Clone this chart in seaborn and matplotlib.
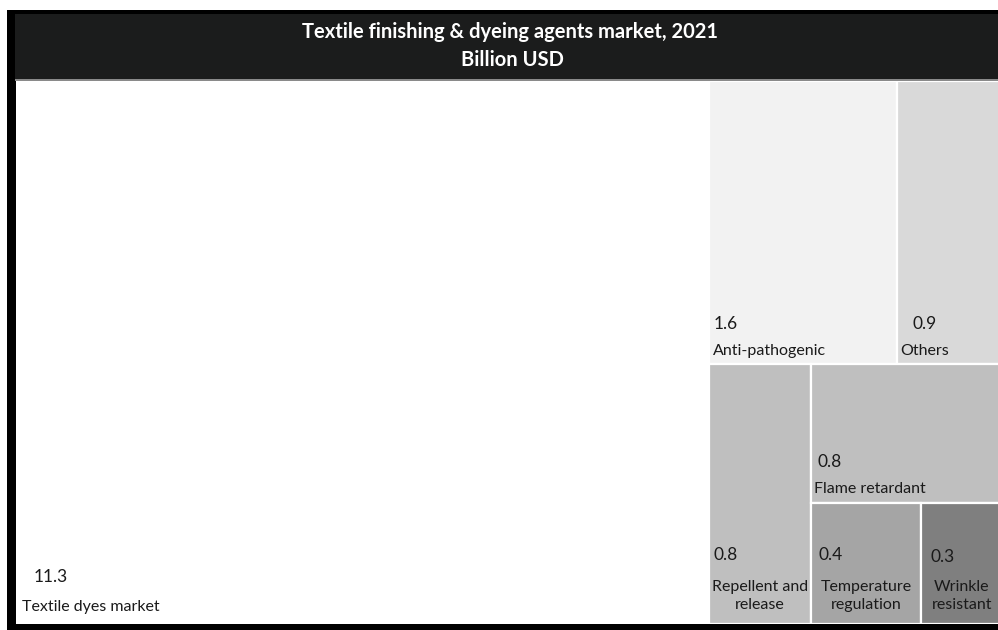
import matplotlib
matplotlib.use("Agg")
import matplotlib.pyplot as plt
import seaborn as sns
from matplotlib.patches import Rectangle

# ---------------- data ----------------
title_line1 = "Textile finishing & dyeing agents market, 2021"
title_line2 = "Billion USD"
categories = ["Textile dyes market", "Anti-pathogenic", "Others",
              "Repellent and\nrelease", "Flame retardant",
              "Temperature\nregulation", "Wrinkle\nresistant"]
values = [11.3, 1.6, 0.9, 0.8, 0.8, 0.4, 0.3]
# nesting of the treemap (indices into categories)
tree = [0, [[1, 2], [3, [4, [5, 6]]]]]

# ---------------- style ----------------
colors = ["#ffffff", "#f2f2f2", "#d9d9d9", "#bfbfbf", "#bfbfbf", "#a5a5a5", "#7f7f7f"]
# label placement (pixel offsets from tile bottom-left): value dx, value dy, name dx, name dy, name centred?
label_style = [
    (18, 47, 6, 17, False),
    (5, 40, 4, 13, False),
    (15, 40, 3, 13, False),
    (5, 69, None, 28, True),
    (6, 41, 3, 14, False),
    (7, 69, None, 28, True),
    (10, 67, None, 28, True),
]

sns.set_theme(style="white")
plt.rcParams["font.family"] = ["Lato", "DejaVu Sans"]

W, H = 998, 630
fig = plt.figure(figsize=(W / 100, H / 100), dpi=100)
fig.patch.set_facecolor("white")


def fig_rect(x0, y0_top, x1, y1_top, color, z=-5):
    """Rectangle in pixel coordinates with y measured from the top."""
    r = Rectangle((x0 / W, 1 - y1_top / H), (x1 - x0) / W, (y1_top - y0_top) / H,
                  transform=fig.transFigure, facecolor=color, edgecolor="none", zorder=z)
    fig.add_artist(r)


# outer black frame, title band and separator line
fig_rect(7, 10, 1005, 640, "#000000", z=-5)
fig_rect(15, 14, 1005, 79, "#1b1c1c", z=-4)
fig_rect(15, 79, 1005, 81, "#8a8a8a", z=-4)

fig.text(510 / W, 1 - 32 / H, title_line1, ha="center", va="center",
         color="white", fontsize=14.5, fontweight="bold")
fig.text(512 / W, 1 - 60 / H, title_line2, ha="center", va="center",
         color="white", fontsize=14.5, fontweight="bold")

# treemap axes
left_px, right_px, top_px, bottom_px = 16, 1003, 81, 624
ax = fig.add_axes([left_px / W, 1 - bottom_px / H,
                   (right_px - left_px) / W, (bottom_px - top_px) / H])
ax.set_facecolor("white")
ax.set_xlim(0, 1)
ax.set_ylim(0, 1)
ax.set_axis_off()


def node_total(node):
    if isinstance(node, int):
        return values[node]
    return sum(node_total(c) for c in node)


def layout(node, x, y, w, h, horizontal, out):
    if isinstance(node, int):
        out[node] = (x, y, w, h)
        return
    s = sum(node_total(c) for c in node)
    if horizontal:
        cx = x
        for c in node:
            cw = w * node_total(c) / s
            layout(c, cx, y, cw, h, not horizontal, out)
            cx += cw
    else:
        cy = y + h
        for c in node:
            ch = h * node_total(c) / s
            cy -= ch
            layout(c, x, cy, w, ch, not horizontal, out)


rects = {}
layout(tree, 0, 0, 1, 1, True, rects)

px2pt = 0.72
for i, name in enumerate(categories):
    x, y, w, h = rects[i]
    ax.add_patch(Rectangle((x, y), w, h, facecolor=colors[i],
                           edgecolor="white", linewidth=1.6))
    vdx, vdy, ndx, ndy, centred = label_style[i]
    ax.annotate(f"{values[i]:.1f}", xy=(x, y), xytext=(vdx * px2pt, vdy * px2pt),
                textcoords="offset points", ha="left", va="center",
                fontsize=12.5, color="#1a1a1a")
    if centred:
        ax.annotate(name, xy=(x + w / 2, y), xytext=(0, ndy * px2pt),
                    textcoords="offset points", ha="center", va="center",
                    multialignment="center", fontsize=11.5, color="#1a1a1a",
                    linespacing=1.3)
    else:
        ax.annotate(name, xy=(x, y), xytext=(ndx * px2pt, ndy * px2pt),
                    textcoords="offset points", ha="left", va="center",
                    fontsize=11.5, color="#1a1a1a")

fig.savefig("out.png", dpi=100, facecolor=fig.get_facecolor())
